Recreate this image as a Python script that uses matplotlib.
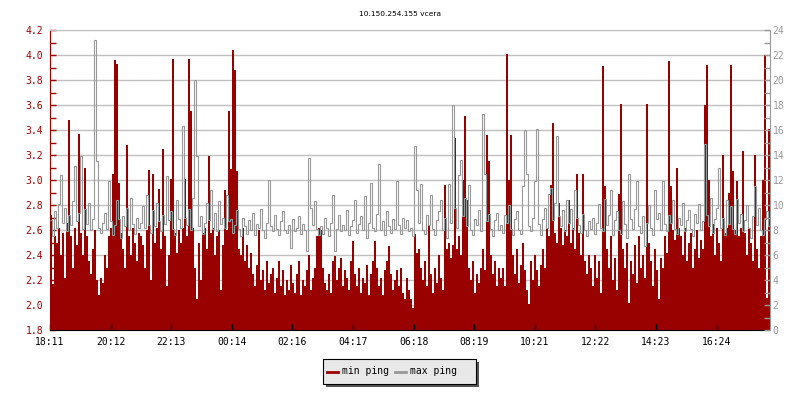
import numpy as np
import matplotlib
matplotlib.use("Agg")
import matplotlib.pyplot as plt
from matplotlib.patches import Rectangle
from matplotlib.lines import Line2D
from matplotlib.ticker import MultipleLocator, FormatStrFormatter

# one sample every 4 minutes, starting at 18:11
step_min = 4

# min ping (ms), left axis
min_ping = [
    2.72, 2.17, 2.55, 2.50, 2.62, 2.40, 2.58, 2.22, 2.66, 3.48, 2.55, 2.30, 2.62, 2.48, 3.37,
    2.58, 2.40, 3.10, 2.55, 2.35, 2.25, 2.45, 2.60, 2.20, 2.08, 2.22, 2.18, 2.40, 2.30, 2.55,
    2.62, 3.05, 3.96, 3.93, 2.98, 2.58, 2.45, 2.30, 3.28, 2.55, 2.40, 2.62, 2.50, 2.35, 2.58,
    2.55, 2.48, 2.30, 2.60, 3.08, 2.20, 3.05, 2.50, 2.62, 2.93, 2.45, 3.25, 2.55, 2.15, 2.40,
    3.01, 3.97, 2.58, 2.42, 2.60, 2.50, 2.62, 3.01, 2.55, 3.97, 3.55, 2.62, 2.30, 2.05, 2.50,
    2.20, 2.58, 2.62, 2.45, 3.19, 2.58, 2.62, 2.40, 2.55, 2.60, 2.12, 2.48, 2.92, 2.60, 3.55,
    3.09, 4.04, 3.88, 3.07, 2.45, 2.40, 2.62, 2.35, 2.48, 2.30, 2.42, 2.25, 2.15, 2.32, 2.60,
    2.20, 2.28, 2.12, 2.35, 2.18, 2.25, 2.30, 2.10, 2.22, 2.35, 2.15, 2.28, 2.08, 2.20, 2.12,
    2.32, 2.18, 2.10, 2.25, 2.35, 2.08, 2.20, 2.15, 2.28, 2.40, 2.12, 2.22, 2.30, 2.55, 2.62,
    2.60, 2.30, 2.18, 2.12, 2.25, 2.10, 2.35, 2.39, 2.20, 2.30, 2.38, 2.15, 2.28, 2.22, 2.12,
    2.35, 2.51, 2.25, 2.15, 2.30, 2.10, 2.22, 2.18, 2.32, 2.08, 2.25, 2.35, 2.51, 2.30, 2.15,
    2.22, 2.08, 2.28, 2.35, 2.47, 2.25, 2.12, 2.20, 2.28, 2.15, 2.30, 2.10, 2.05, 2.22, 2.12,
    2.05, 1.98, 2.57, 2.42, 2.45, 2.30, 2.20, 2.35, 2.15, 2.64, 2.25, 2.10, 2.30, 2.18, 2.40,
    2.22, 2.12, 2.96, 2.45, 2.50, 2.38, 2.48, 3.34, 2.45, 2.55, 2.40, 3.00, 3.51, 2.84, 2.30,
    2.20, 2.35, 2.10, 2.25, 2.18, 2.30, 2.45, 2.28, 3.36, 3.15, 2.40, 2.25, 2.35, 2.15, 2.30,
    2.22, 2.30, 2.15, 4.01, 3.00, 3.36, 2.40, 2.25, 2.45, 2.18, 2.32, 2.50, 2.28, 2.12, 2.01,
    2.35, 2.20, 2.40, 2.28, 2.15, 2.32, 2.45, 2.30, 2.62, 2.55, 2.96, 3.46, 2.58, 2.50, 2.82,
    2.62, 2.48, 2.60, 2.55, 2.84, 2.50, 2.62, 2.45, 3.05, 2.58, 2.40, 3.05, 2.35, 2.25, 2.40,
    2.30, 2.15, 2.40, 2.22, 2.35, 2.10, 3.91, 2.95, 2.45, 2.30, 2.55, 2.20, 2.38, 2.12, 2.89,
    3.61, 2.45, 2.30, 2.50, 2.02, 2.35, 2.25, 2.48, 2.18, 2.55, 2.30, 2.40, 2.22, 3.61, 2.50,
    2.35, 2.15, 2.45, 2.28, 2.05, 2.38, 2.30, 2.55, 2.42, 3.95, 2.95, 2.60, 2.52, 3.10, 2.62,
    2.55, 2.40, 2.62, 2.35, 2.50, 2.58, 2.30, 2.45, 2.60, 2.38, 2.52, 2.45, 3.60, 3.92, 3.00,
    2.55, 2.65, 2.40, 2.62, 2.50, 2.35, 3.20, 2.58, 2.62, 2.90, 3.92, 3.07, 2.60, 2.99, 2.55,
    2.62, 3.23, 2.58, 2.40, 2.62, 2.50, 2.35, 3.20, 2.45, 2.30, 2.55, 3.00, 4.00, 2.06, 3.41,
]

# max ping (ms), right axis
max_ping = [
    8.8, 7.5, 9.5, 8.2, 10.1, 12.4, 8.6, 9.8, 7.9, 9.2, 8.4, 10.3, 13.1, 8.7, 9.4,
    13.9, 8.1, 9.7, 8.5, 10.2, 8.0, 8.9, 23.2, 13.5, 8.2, 7.8, 8.6, 9.4, 8.1, 11.9,
    8.7, 7.6, 8.4, 10.4, 8.9, 7.4, 9.1, 8.3, 9.8, 8.0, 10.6, 8.5, 7.7, 9.0, 8.2,
    8.6, 9.9, 8.2, 10.8, 8.4, 7.8, 9.6, 8.3, 10.2, 8.7, 7.9, 9.2, 8.5, 12.3, 8.8,
    9.5, 8.1, 7.6, 10.4, 8.9, 8.2, 16.3, 9.0, 8.4, 9.7, 8.0, 10.6, 20.0, 13.9, 8.3,
    9.1, 7.7, 8.6, 10.2, 8.8, 11.2, 8.1, 9.4, 7.9, 10.3, 8.5, 9.0, 8.2, 10.8, 8.7,
    8.9, 7.8, 8.4, 9.6, 8.1, 7.5, 9.0, 8.3, 7.7, 8.8, 8.0, 9.4, 7.6, 8.5, 8.2,
    9.7, 8.0, 7.4, 8.6, 12.0, 8.3, 7.9, 9.2, 8.1, 7.6, 8.7, 9.5, 8.0, 7.8, 8.4,
    6.6, 8.9, 7.9, 8.2, 9.1, 7.7, 8.5, 8.0, 6.3, 13.8, 9.8, 8.4, 10.3, 8.1, 7.6,
    8.3, 7.7, 9.0, 8.2, 7.5, 8.6, 10.8, 6.3, 8.1, 9.2, 7.9, 8.4, 8.0, 9.6, 7.6,
    8.3, 8.8, 10.4, 7.8, 8.5, 9.1, 8.0, 10.7, 7.4, 8.6, 11.8, 8.2, 7.9, 9.3, 13.3,
    8.0, 8.7, 7.6, 9.5, 8.3, 7.8, 8.9, 8.1, 11.9, 8.4, 7.7, 9.0, 8.2, 8.8, 7.9,
    8.2, 7.5, 14.7, 11.2, 8.6, 11.7, 8.0, 7.7, 9.2, 8.4, 10.8, 8.1, 7.6, 8.8, 9.5,
    10.4, 8.0, 9.0, 7.4, 11.7, 8.6, 18.0, 9.8, 8.2, 12.4, 13.6, 9.1, 10.6, 8.3, 11.6,
    8.0, 7.6, 8.9, 8.4, 9.6, 7.9, 17.3, 12.5, 8.7, 9.3, 8.1, 7.5, 8.8, 9.4, 8.0,
    8.4, 7.8, 9.2, 8.6, 10.0, 8.1, 7.6, 8.9, 9.5, 8.0, 7.7, 11.5, 16.0, 12.5, 8.3,
    7.9, 9.0, 11.9, 16.1, 8.5, 7.6, 8.9, 9.8, 8.2, 10.9, 11.4, 8.8, 10.2, 15.5, 9.1,
    8.3, 9.6, 7.9, 10.4, 8.6, 9.7, 8.1, 11.2, 9.0, 8.4, 7.8, 9.3, 8.0, 7.5, 8.7,
    8.1, 9.0, 7.7, 8.6, 10.1, 8.2, 7.9, 10.5, 8.4, 9.2, 11.2, 7.6, 8.8, 9.5, 8.0,
    7.7, 10.3, 8.5, 7.4, 12.5, 8.9, 8.1, 9.7, 11.9, 8.3, 7.8, 9.1, 6.7, 8.6, 10.0,
    8.2, 7.6, 11.2, 8.9, 9.4, 8.0, 11.9, 8.5, 7.9, 9.2, 8.6, 10.4, 8.1, 7.7, 9.0,
    8.4, 10.2, 7.9, 8.8, 9.6, 8.1, 7.5, 9.3, 8.6, 10.1, 8.0, 8.7, 14.9, 9.2, 8.3,
    10.6, 7.8, 8.9, 9.8, 13.0, 8.2, 9.0, 7.6, 10.4, 8.5, 9.9, 8.1, 7.7, 10.5, 8.6,
    9.3, 7.9, 8.8, 10.0, 8.2, 7.4, 9.1, 11.5, 8.4, 9.8, 8.0, 7.6, 8.9, 9.5, 8.3,
]

# x ticks every 121.2 minutes
tick_step_min = 121.2
tick_labels = ["18:11", "20:12", "22:13", "00:14", "02:16", "04:17",
               "06:18", "08:19", "10:21", "12:22", "14:23", "16:24"]

title = "10.150.254.155 vcera"
red = "#990000"
gray = "#999999"

plt.rcParams["font.family"] = "DejaVu Sans Mono"

W, H = 800, 400


def fx(px):
    return px / W


def fy(py):
    return 1 - py / H


edges = np.arange(len(min_ping) + 1) * step_min

fig = plt.figure(figsize=(8, 4), dpi=100)
ax = fig.add_axes([fx(50), fy(330), 720 / W, 300 / H])

# horizontal grid under the area
for y in np.arange(1.8, 4.21, 0.2):
    ax.axhline(y, color="#c0c0c0", lw=1, zorder=0)

ax.stairs(min_ping, edges, fill=True, color=red, baseline=0, lw=0, zorder=1)
ax.set_xlim(0, len(min_ping) * step_min)
ax.set_ylim(1.8, 4.2)

ax2 = ax.twinx()
ax2.stairs(max_ping, edges, color=gray, lw=0.8, baseline=None)
ax2.set_ylim(0, 24)

# left axis
ax.yaxis.set_major_locator(MultipleLocator(0.2))
ax.yaxis.set_minor_locator(MultipleLocator(0.1))
ax.yaxis.set_major_formatter(FormatStrFormatter("%.1f"))
ax.tick_params(axis="y", which="both", direction="in", length=4, width=1,
               color=red, labelcolor=red, labelsize=7, pad=5)

# right axis
ax2.yaxis.set_major_locator(MultipleLocator(2))
ax2.yaxis.set_minor_locator(MultipleLocator(1))
ax2.tick_params(axis="y", which="both", direction="in", length=4, width=1,
                color=gray, labelcolor=gray, labelsize=7, pad=2)

# time axis
ax.set_xticks(np.arange(len(tick_labels)) * tick_step_min)
ax.set_xticklabels(tick_labels)
ax.tick_params(axis="x", direction="in", length=4, width=1, color="black",
               labelsize=7, pad=5)

ax.spines["top"].set_color("#c0c0c0")
ax.spines["right"].set_visible(False)
ax.spines["left"].set_color(red)
ax.spines["bottom"].set_color("black")
for side in ["left", "top", "bottom"]:
    ax2.spines[side].set_visible(False)
ax2.spines["right"].set_color(gray)

fig.text(0.5, fy(13.5), title, ha="center", va="center", size=5.4,
         family="DejaVu Sans")

# legend box with shadow
fig.add_artist(Rectangle((fx(325.5), fy(386.5)), 153.5 / W, 24.3 / H,
                         transform=fig.transFigure, facecolor="#555555", lw=0))
fig.add_artist(Rectangle((fx(322.5), fy(383.5)), 153.5 / W, 24.3 / H,
                         transform=fig.transFigure, facecolor="#e8e8e8",
                         edgecolor="black", lw=0.8))
fig.add_artist(Line2D([fx(327), fx(338)], [fy(372), fy(372)],
                      transform=fig.transFigure, color=red, lw=2))
fig.text(fx(342), fy(371), "min ping", ha="left", va="center", size=7)
fig.add_artist(Line2D([fx(395), fx(406)], [fy(372), fy(372)],
                      transform=fig.transFigure, color=gray, lw=2))
fig.text(fx(410), fy(371), "max ping", ha="left", va="center", size=7)

fig.savefig("out.png", dpi=100)
